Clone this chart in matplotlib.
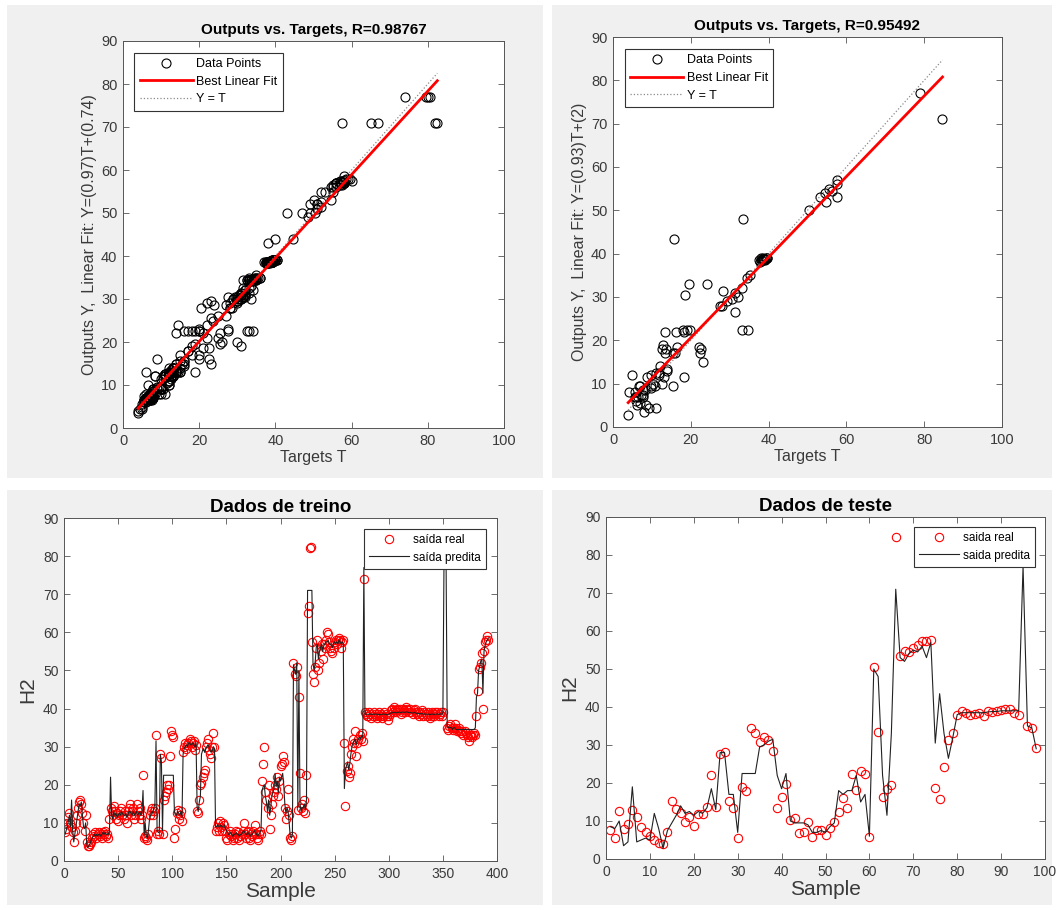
import matplotlib
matplotlib.use('Agg')
import matplotlib.pyplot as plt
from matplotlib.patches import Rectangle
import numpy as np

plt.rcParams['font.family'] = ['Liberation Sans', 'DejaVu Sans']

# dados de treino: saida real (alvo) e saida predita pela rede, amostras 1..392
train_real = [
    7.5, 8.5, 10, 11.5, 12.5, 10, 9, 7.5, 5, 8,
    10, 12, 14, 15.5, 16, 15, 12.5, 10, 8, 12,
    5, 4, 4, 4.5, 5, 6, 7, 6.5, 7.5, 6,
    7, 7.5, 6.5, 7, 6, 7.5, 7, 8, 6.5, 7,
    6, 11, 14, 13, 12, 14.5, 13, 11, 12.5, 10.5,
    12, 13, 14, 12, 11, 13, 12, 10, 13, 14,
    15, 12, 13, 14, 11, 12, 15, 13, 12, 14,
    11, 12, 22.5, 6, 6.5, 6, 5.5, 7, 12, 13,
    14, 12, 13, 14, 33, 7, 8, 7, 28, 27,
    7, 16, 17, 18, 20, 19, 20, 27.5, 34, 33,
    32.5, 6, 8.5, 12.5, 13.5, 11, 12, 13, 10.5, 28.5,
    30, 31, 29.5, 30.5, 31, 32, 31.5, 30, 31, 31.5,
    29, 30.5, 13, 12.5, 16, 20, 20.5, 22, 23, 24,
    30, 31, 32, 29, 28, 27, 30, 33.5, 30, 8,
    9, 10, 8, 10.5, 9, 8, 10, 9.5, 8, 6,
    5.5, 7, 8, 6.5, 7, 5.5, 6, 7, 8, 6,
    7.5, 5.5, 6.5, 7, 8, 10, 7, 6, 7.5, 8,
    6, 5.5, 7, 6.5, 8, 9.5, 7, 6, 5.5, 7,
    8, 7, 21, 25.5, 30, 18, 16, 14, 20, 8.5,
    12, 15, 17, 18, 20, 19, 22, 17, 21, 25,
    25.5, 27.5, 26, 14, 11, 13, 19, 12, 6, 5.5,
    6.5, 52, 49, 48.5, 51, 13.5, 43, 23, 14, 15,
    13, 16, 12.5, 22.5, 65, 67, 82, 82.5, 57.5, 49,
    47, 51, 56, 58, 50, 52, 55, 57, 53, 57,
    56, 58, 60, 59.5, 57.5, 56, 55, 54.5, 56, 57.5,
    58, 57, 58, 58.5, 58, 56, 57.5, 58, 31, 14.5,
    23.5, 25, 22, 23, 28, 30, 32, 31, 34, 27.5,
    31, 32, 33, 32, 33.5, 31.5, 74, 39, 38.5, 38,
    38, 39, 38.5, 37.5, 38, 39, 38.5, 38, 37.5, 38.5,
    39, 38, 38.5, 37.5, 38, 39, 38.5, 38, 37, 38,
    38.5, 39.5, 40, 39, 40.5, 39.5, 39, 40, 39.5, 40,
    38.5, 39, 40, 39.5, 39, 40.5, 40, 39.5, 39, 40,
    39, 38.5, 39.5, 40, 39, 38.5, 39, 38, 39, 38.5,
    39.5, 38, 39, 38.5, 38, 39, 38.5, 37.5, 38, 39,
    38.5, 38, 39, 38.5, 39, 38, 38.5, 39, 38, 39,
    79.5, 80, 80.5, 35, 34.5, 35.5, 36, 35, 34.5, 35,
    36, 35, 34, 34.5, 35, 34, 33.5, 34, 33, 34,
    33.5, 33, 32.5, 31.5, 33, 33, 32.5, 33, 33.5, 33,
    38, 44.5, 50.5, 51, 52, 54.5, 40, 55, 57.5, 58,
    59, 58]
train_pred = [
    7, 8, 9, 10.5, 12, 9, 16, 8, 5, 7,
    9, 11, 13, 15, 14.5, 15.5, 12, 9, 8.5, 10,
    4.5, 3.5, 4, 4.5, 5.5, 6, 6.5, 7, 6.5, 7,
    6.5, 7, 7, 6.5, 7, 7.5, 7, 7.5, 7, 7,
    7, 8, 22, 12, 11, 13, 12, 12.5, 11.5, 12,
    12.5, 12, 13, 12.5, 12, 12, 12.5, 11.5, 12, 13,
    13, 12.5, 12, 13, 12, 12.5, 13, 12, 12.5, 13,
    12, 13, 18.5, 7, 10, 6.5, 6, 8, 11, 12,
    13, 12.5, 14, 15, 31.5, 8, 7.5, 7.5, 28, 26,
    8, 22.5, 22.5, 22.5, 22.5, 22.5, 22.5, 22.5, 22.5, 22.5,
    22.5, 13, 12, 12, 13, 12.5, 12, 13, 11.5, 28,
    29.5, 30, 30.5, 30, 31, 31, 30.5, 30.5, 31, 30.5,
    30, 31, 14, 13, 15.5, 17, 28, 29, 29.5, 28.5,
    29.5, 30, 30.5, 30, 29, 28.5, 29, 30, 29.5, 9,
    9, 9.5, 9, 9, 9.5, 9, 9, 9.5, 8.5, 8,
    7.5, 7, 7, 7.5, 7, 6.5, 7, 7, 7.5, 7,
    7, 6.5, 7, 7, 7.5, 8, 7.5, 7, 7, 7.5,
    7, 6.5, 7, 7, 7.5, 8, 7.5, 7, 6.5, 7,
    7.5, 8, 18.5, 19.5, 20, 17, 15.5, 13, 16, 12,
    14, 17, 18, 19, 23, 19.5, 21, 18, 22, 21,
    22, 23, 20, 15, 12.5, 14, 13, 10, 6.5, 6,
    7, 51.5, 50, 49, 52, 14, 50, 15, 13, 14,
    14, 15, 13.5, 16, 71, 71, 71, 71, 71, 52,
    50, 52, 56, 57, 53, 55, 56, 57, 55, 56.5,
    57, 57.5, 57.5, 58, 57, 57, 56.5, 56, 57, 57.5,
    57, 57.5, 57, 58, 57.5, 57, 57.5, 57, 19, 24,
    25, 26, 24, 25.5, 28, 30, 31, 31.5, 32, 30.5,
    31.5, 32, 32.5, 32, 33, 32.5, 77, 38.5, 38.5, 38.5,
    38.5, 38.5, 38.6, 38.4, 38.5, 38.5, 38.5, 38.6, 38.5, 38.4,
    38.5, 38.4, 38.5, 38.5, 38.6, 38.5, 38.5, 38.4, 38.5, 38.5,
    38.7, 38.8, 39, 38.9, 39, 39, 38.9, 39, 39, 39.1,
    38.9, 39, 39.1, 39, 39, 39.1, 39.1, 39, 38.9, 39,
    38.9, 38.8, 38.9, 39, 38.8, 38.7, 38.8, 38.6, 38.7, 38.6,
    38.7, 38.5, 38.6, 38.5, 38.5, 38.6, 38.5, 38.4, 38.5, 38.6,
    38.5, 38.4, 38.6, 38.5, 38.6, 38.5, 38.5, 38.6, 38.5, 38.6,
    77, 77, 77, 35.5, 35, 35, 35, 35, 34.5, 35,
    35, 34.5, 34.5, 34.5, 34.5, 34.5, 34.5, 34.5, 34.5, 34.5,
    34.5, 34.5, 34.5, 34.5, 34.5, 34.5, 34.5, 34.5, 34.5, 35,
    43, 44, 50, 51, 52.5, 53, 44, 55, 56.5, 57.5,
    58, 58.5]

# dados de teste, amostras 1..98
test_real = [
    7.6, 5.6, 12.6, 8, 9.2, 12.9, 11, 8.5, 7, 6.1,
    5, 4.1, 3.9, 7.2, 15.3, 13.2, 12, 9.8, 11, 8.8,
    11.8, 11.8, 13.8, 22.1, 13.8, 27.6, 28.1, 15.3, 13.3, 5.6,
    19, 18, 34.6, 33.1, 30.7, 32.2, 31.3, 28.4, 13.3, 16.4,
    19.7, 10.3, 10.7, 6.8, 7, 9.7, 5.9, 7.6, 7.6, 6.3,
    8.1, 9.8, 12.5, 16, 13.5, 22.5, 18.2, 23.2, 22.3, 5.9,
    50.5, 33.5, 16.2, 18.3, 19.5, 84.7, 53.3, 54.8, 54.6, 55.5,
    56.4, 57.5, 57.5, 57.7, 18.6, 15.8, 24.2, 31.3, 33.1, 37.9,
    39, 38.5, 38, 38.2, 38.5, 37.6, 38.9, 38.6, 39, 39.3,
    39.6, 39.5, 38.5, 38, 79, 35.1, 34.4, 29.2]
test_pred = [
    8.5, 8, 10, 3.5, 4.5, 19, 4.5, 5, 5.5, 5,
    12, 8, 2.8, 7.5, 9.5, 11.5, 14, 12, 12.5, 11.5,
    12.5, 12, 13.5, 18.5, 13, 28, 28, 17, 17, 7,
    22.5, 22.5, 22.5, 22.5, 29.5, 30, 31, 31.5, 22, 18.5,
    22.5, 10, 9.5, 9.5, 9.5, 9, 7, 7, 7.5, 7,
    8.5, 9.5, 18, 17, 18, 18, 22, 15, 17, 6,
    50, 48, 22, 11.5, 33, 71, 53, 52, 54, 55,
    54.5, 56, 53, 57, 30.5, 43.5, 33, 26.5, 32, 38,
    38.5, 38.5, 38.5, 38.5, 38.5, 38.5, 38.7, 38.8, 38.8, 39,
    39, 39, 39, 39, 77, 35, 34.5, 29]

train_fit = (0.97, 0.74)
test_fit = (0.93, 2)
train_title = 'Outputs vs. Targets, R=0.98767'
test_title = 'Outputs vs. Targets, R=0.95492'
train_ylabel = 'Outputs Y,  Linear Fit: Y=(0.97)T+(0.74)'
test_ylabel = 'Outputs Y,  Linear Fit: Y=(0.93)T+(2)'

W, H = 1058, 910
TICK_COL = '#3a3a3a'
AX_COL = '#555555'


def styleAxes(ax, xmax, xstep, fs):
    ax.set_xlim(0, xmax)
    ax.set_ylim(0, 90)
    ax.set_xticks(np.arange(0, xmax + 1, xstep))
    ax.set_yticks(np.arange(0, 91, 10))
    ax.tick_params(direction='in', top=True, right=True, length=4, width=0.6,
                   color=AX_COL, labelcolor=TICK_COL, labelsize=fs, pad=4)
    for s in ax.spines.values():
        s.set_color(AX_COL)
        s.set_linewidth(0.7)


def drawRegression(ax, targets, outputs, fit, title, ylabel):
    t = np.array(targets)
    y = np.array(outputs)
    ax.plot(t, y, 'o', mfc='none', mec='black', ms=6.5, mew=0.8, label='Data Points')
    tl = np.array([t.min(), t.max()])
    ax.plot(tl, fit[0] * tl + fit[1], color='red', lw=2.0, label='Best Linear Fit', zorder=3)
    ax.plot(tl, tl, ':', color='#8a8a8a', lw=0.9, label='Y = T', zorder=2)
    styleAxes(ax, 100, 20, 10.5)
    ax.set_title(title, fontsize=11, fontweight='bold', pad=5)
    ax.set_xlabel('Targets T', fontsize=11.5, color=TICK_COL, labelpad=2)
    ax.set_ylabel(ylabel, fontsize=11.5, color=TICK_COL, labelpad=3)
    leg = ax.legend(loc='upper left', bbox_to_anchor=(0.03, 0.97), borderaxespad=0,
                    fontsize=9, fancybox=False, framealpha=1, edgecolor='#333333',
                    handlelength=4.2, handletextpad=0.3, borderpad=0.45, labelspacing=0.45)
    leg.get_frame().set_linewidth(0.8)


def drawSeries(ax, real, pred, title, xmax, xstep, labels, anchor):
    x = np.arange(1, len(real) + 1)
    ax.plot(x, real, 'o', mfc='none', mec='red', ms=6, mew=0.8, label=labels[0])
    ax.plot(x, pred, color='#222222', lw=0.8, label=labels[1])
    styleAxes(ax, xmax, xstep, 10)
    ax.set_title(title, fontsize=13.5, fontweight='bold', pad=4)
    ax.set_xlabel('Sample', fontsize=15, color=TICK_COL, labelpad=1)
    ax.set_ylabel('H2', fontsize=15, color=TICK_COL, labelpad=4)
    leg = ax.legend(loc='upper right', bbox_to_anchor=anchor, borderaxespad=0,
                    fontsize=8.5, fancybox=False, framealpha=1, edgecolor='#333333',
                    handlelength=3.4, handletextpad=0.3, borderpad=0.45, labelspacing=0.45)
    leg.get_frame().set_linewidth(0.8)


fig = plt.figure(figsize=(W / 100, H / 100), dpi=100)
fig.patch.set_facecolor('white')

# fundos cinzas de cada janela
for (x0, y0, x1, y1) in [(7, 5, 543, 478), (552, 5, 1052, 478), (7, 490, 543, 905), (552, 490, 1052, 905)]:
    fig.add_artist(Rectangle((x0 / W, 1 - y1 / H), (x1 - x0) / W, (y1 - y0) / H,
                             transform=fig.transFigure, facecolor='#f0f0f0',
                             edgecolor='none', zorder=-5))


def axRect(x0, y0, x1, y1):
    return [x0 / W, 1 - y1 / H, (x1 - x0) / W, (y1 - y0) / H]


ax1 = fig.add_axes(axRect(123, 41, 504, 428))
drawRegression(ax1, train_real, train_pred, train_fit, train_title, train_ylabel)

ax2 = fig.add_axes(axRect(613, 37, 1002, 427))
drawRegression(ax2, test_real, test_pred, test_fit, test_title, test_ylabel)

ax3 = fig.add_axes(axRect(64, 518, 497, 861))
drawSeries(ax3, train_real, train_pred, 'Dados de treino', 400, 50,
           ['saída real', 'saída predita'], (1 - 11 / 433, 1 - 11 / 343))

ax4 = fig.add_axes(axRect(606, 517, 1045, 859))
drawSeries(ax4, test_real, test_pred, 'Dados de teste', 100, 10,
           ['saida real', 'saida predita'], (1 - 10 / 439, 1 - 10 / 342))

fig.savefig('out.png', dpi=100)
